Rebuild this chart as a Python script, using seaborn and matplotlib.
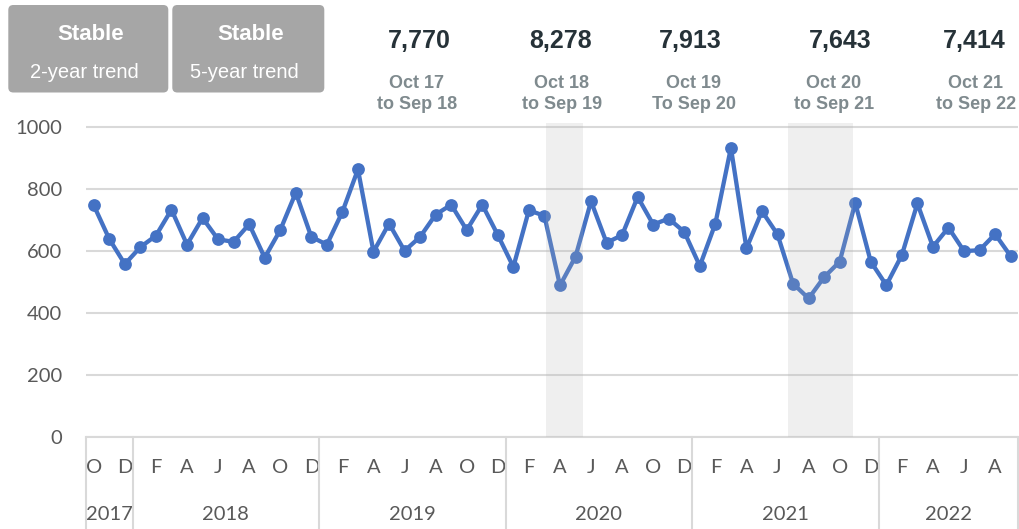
import numpy as np
import pandas as pd
import matplotlib
matplotlib.use("Agg")
import matplotlib.pyplot as plt
import matplotlib.transforms as mtransforms
from matplotlib.patches import FancyBboxPatch
import seaborn as sns

# ---------------- data ----------------
months = pd.date_range("2017-10-01", "2022-09-01", freq="MS")
values = [747, 638, 557, 612, 649, 733, 620, 706, 637, 629, 686, 578,
          667, 788, 645, 620, 726, 863, 597, 688, 600, 645, 717, 749,
          667, 749, 651, 548, 731, 713, 488, 581, 760, 626, 651, 774,
          685, 704, 661, 551, 688, 933, 608, 728, 653, 494, 446, 515,
          565, 755, 565, 489, 586, 753, 613, 675, 599, 602, 654, 583]
annual_totals = ["7,770", "8,278", "7,913", "7,643", "7,414"]
annual_periods = ["Oct 17\nto Sep 18", "Oct 18\nto Sep 19", "Oct 19\nTo Sep 20",
                  "Oct 20\nto Sep 21", "Oct 21\nto Sep 22"]
trend_status = ["Stable", "Stable"]
trend_labels = ["2-year trend", "5-year trend"]
# highlighted periods (in month-index units)
shade_spans = [(29.1, 31.45), (44.65, 48.85)]
y_ticks = [0, 200, 400, 600, 800, 1000]

# ---------------- style ----------------
sns.set_theme(style="white")
plt.rcParams['font.family'] = ['Lato', 'DejaVu Sans']

W, H = 1019, 529
fig = plt.figure(figsize=(W / 100, H / 100), dpi=100)
fig.patch.set_facecolor("white")

ax_left, ax_right = 86, 1018.4
ax_top, ax_bottom = 123, 436.5
ax = fig.add_axes([ax_left / W, 1 - ax_bottom / H,
                   (ax_right - ax_left) / W, (ax_bottom - ax_top) / H])

df = pd.DataFrame({"idx": np.arange(len(values)), "value": values})
sns.lineplot(data=df, x="idx", y="value", ax=ax, color="#4472C4",
             linewidth=3.1, marker="o", markersize=9.2,
             markeredgewidth=0, zorder=3)

for s, e in shade_spans:
    ax.axvspan(s, e, color="#b2b2b2", alpha=0.2, lw=0, zorder=4)

ax.set_xlim(-0.5, len(values) - 0.5)
ax.set_ylim(0, 1013)
ax.set_yticks(y_ticks)
ax.set_yticklabels([str(v) for v in y_ticks])
ax.yaxis.grid(True, color="#d9d9d9", lw=1.5)
ax.set_axisbelow(True)
for sp in ["top", "right", "left"]:
    ax.spines[sp].set_visible(False)
ax.spines["bottom"].set_color("#d9d9d9")
ax.spines["bottom"].set_linewidth(1.5)
ax.set_xlabel("")
ax.set_ylabel("")

xt = np.arange(0, len(values), 2)
ax.set_xticks(xt)
ax.set_xticklabels([months[i].strftime("%b")[0] for i in xt])
ax.tick_params(axis="x", length=0, pad=16, labelsize=14.5, labelcolor="#595959")
ax.tick_params(axis="y", length=0, pad=17, labelsize=14.5, labelcolor="#595959")

# year separators and labels
trans = mtransforms.blended_transform_factory(ax.transData, ax.transAxes)
years = months.year
bounds = [-0.5] + [i - 0.5 for i in range(1, len(months)) if years[i] != years[i - 1]] + [len(months) - 0.5]
for b in bounds:
    ax.plot([b, b], [0, -0.32], transform=trans, clip_on=False,
            color="#d9d9d9", lw=1.5)
for y in sorted(set(years)):
    ids = np.where(years == y)[0]
    ax.text((ids[0] + ids[-1]) / 2, -0.25, str(y), transform=trans,
            ha="center", va="center", fontsize=14.5, color="#595959")

# ---------------- header ----------------
hax = fig.add_axes([0, 0, 1, 1])
hax.set_xlim(0, W)
hax.set_ylim(H, 0)
hax.axis("off")
hax.patch.set_visible(False)

box_x = [8.3, 172.3]
box_w = [160, 152]
for bx, bw, st, lab in zip(box_x, box_w, trend_status, trend_labels):
    hax.add_patch(FancyBboxPatch((bx, 5), bw, 87.5,
                                 boxstyle="round,pad=0,rounding_size=5",
                                 fc="#a6a6a6", ec="none"))
    cx = bx + bw / 2
    hax.text(cx + 2, 34, st, ha="center", va="center", color="white",
             fontsize=16, fontweight="bold", family=["Liberation Sans"])
    hax.text(cx - 4, 72, lab, ha="center", va="center", color="white",
             fontsize=14.5, family=["Liberation Sans"])

tot_x = [419, 561, 690, 840, 974]
per_x = [417, 562, 694, 834, 976]
for tx, px, tot, per in zip(tot_x, per_x, annual_totals, annual_periods):
    hax.text(tx, 41, tot, ha="center", va="center", color="#263238",
             fontsize=18, fontweight="bold", family=["Liberation Sans"])
    hax.text(px, 94, per, ha="center", va="center", color="#7f8a8e",
             fontsize=13, fontweight="bold", family=["Liberation Sans"],
             linespacing=1.25)

fig.savefig("out.png", dpi=100, facecolor="white")
